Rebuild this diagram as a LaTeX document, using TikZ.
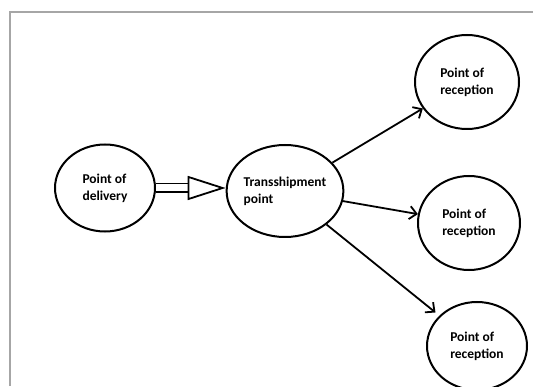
\documentclass[tikz,border=0pt]{standalone}
\usepackage{fontspec}
\setmainfont{Carlito}
\usetikzlibrary{shapes.geometric,arrows.meta}

\begin{document}
\begin{tikzpicture}[x=1pt,y=1pt,
  point/.style={ellipse,draw,line width=2pt,inner sep=0pt,align=left,
    font=\fontsize{13.5}{17}\selectfont\bfseries},
  flow/.style={line width=1.8pt,-{Straight Barb[length=7pt,width=13pt]}}]
\useasboundingbox (0,0) rectangle (533,386);
\draw [gray!70,line width=1.4pt] (10,0) -- (10,374) -- (533,374);
\node [point,minimum width=100pt,minimum height=87pt] (pd) at (105,198) {Point of\\delivery};
\node [point,minimum width=104pt,minimum height=92pt] (tp) at (285,195) {Transshipment\\point};
\node [point,minimum width=104pt,minimum height=94pt] (pr1) at (467,304) {Point of\\reception};
\node [point,minimum width=102pt,minimum height=94pt] (pr2) at (469,163) {Point of\\reception};
\node [point,minimum width=100pt,minimum height=88pt] (pr3) at (477,40) {Point of\\reception};
% double arrow
\draw [line width=1.8pt,double distance=7pt,-{Triangle[open,length=38pt,width=24pt,line width=1.8pt]}]
  (pd.east) -- (pd.east -| tp.west);
\draw [flow] (tp) -- (pr1);
\draw [flow] (tp) -- (pr2);
\draw [flow,shorten >=5pt] (tp) -- (pr3);
\end{tikzpicture}
\end{document}
